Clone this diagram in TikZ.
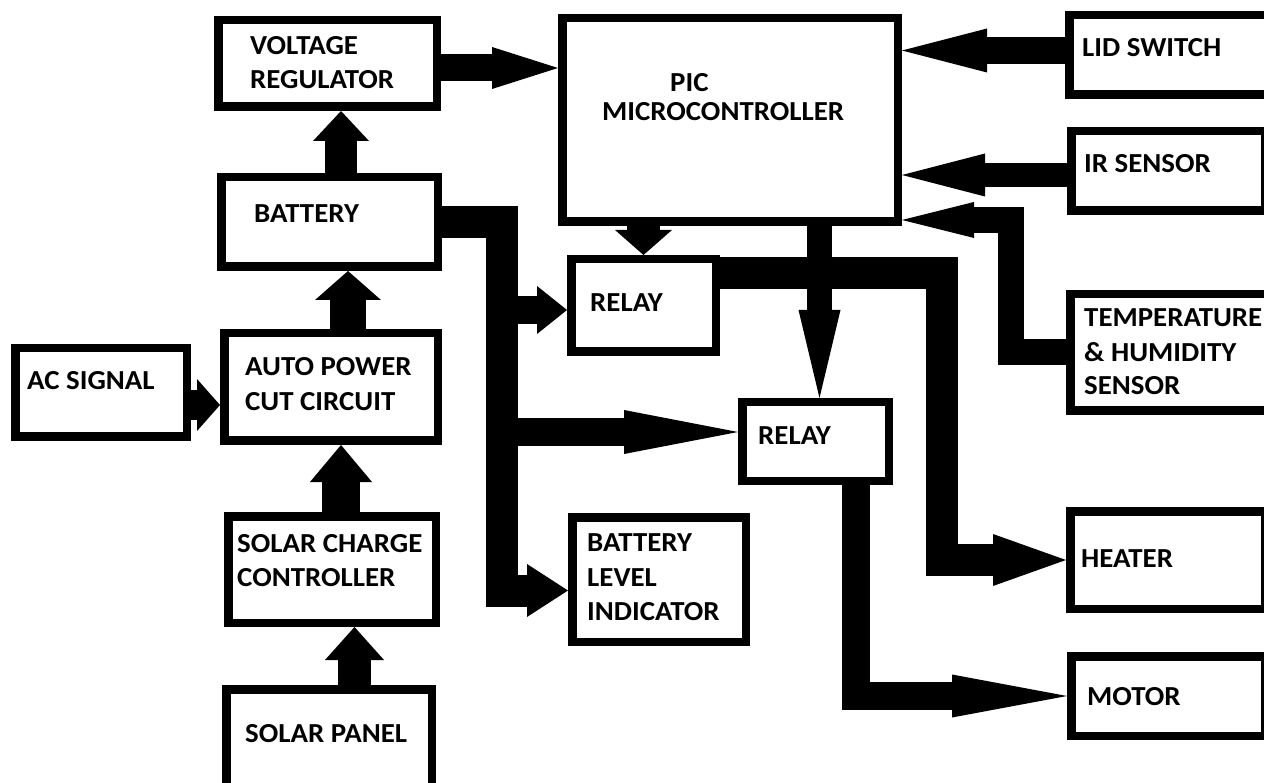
\documentclass[tikz,border=0pt]{standalone}
\usepackage{fontspec}
\setmainfont{Carlito}[FakeStretch=1.05]
\usetikzlibrary{arrows.meta}
\begin{document}
\begin{tikzpicture}[x=1pt,y=-1pt,
  box/.style={draw=black, line width=8.5pt, inner sep=0pt, fill=white},
  txt/.style={anchor=base west, inner sep=0pt, font=\fontsize{27.5}{32}\selectfont\bfseries},
  conn/.style={draw=black, line cap=butt, line join=miter},
  ahead/.style 2 args={-{Triangle[length=#1,width=#2,line width=0pt]}}]
\useasboundingbox (0,0) rectangle (1264,783);
\clip (0,0) rectangle (1264,783);
\fill[white] (0,0) rectangle (1264,783);

% boxes
\node[box, minimum width=218.5pt, minimum height=86.5pt]  (vr)     at (327.5,63.5) {};
\node[box, minimum width=335.5pt, minimum height=203.5pt] (pic)    at (730,120) {};
\node[box, minimum width=206.5pt, minimum height=79.5pt]  (lid)    at (1172.5,55) {};
\node[box, minimum width=193.5pt, minimum height=79.5pt]  (ir)     at (1168,171) {};
\node[box, minimum width=205.5pt, minimum height=116.5pt] (temp)   at (1173,352.5) {};
\node[box, minimum width=216.5pt, minimum height=89.5pt]  (bat)    at (329.5,222) {};
\node[box, minimum width=144.5pt, minimum height=92.5pt]  (rly1)   at (643.5,305.5) {};
\node[box, minimum width=171.5pt, minimum height=88.5pt]  (ac)     at (101,392.5) {};
\node[box, minimum width=213.5pt, minimum height=107.5pt] (apc)    at (331,387) {};
\node[box, minimum width=146.5pt, minimum height=78.5pt]  (rly2)   at (815.5,441.5) {};
\node[box, minimum width=207.5pt, minimum height=106.5pt] (scc)    at (332,569.5) {};
\node[box, minimum width=173.5pt, minimum height=124.5pt] (bli)    at (659,579.5) {};
\node[box, minimum width=194.5pt, minimum height=97.5pt]  (heater) at (1167.5,560) {};
\node[box, minimum width=193.5pt, minimum height=79.5pt]  (motor)  at (1168,696) {};
\node[box, minimum width=205.5pt, minimum height=116.5pt] (sp)     at (329,747.5) {};

% texts
\node[txt] (t1) at (250,55) {VOLTAGE};
\node[txt] (t2) at (250,89) {REGULATOR};
\node[txt] (t3) at (670,92) {PIC};
\node[txt] (t4) at (602,121) {MICROCONTROLLER};
\node[txt] (t5) at (1082,57) {LID SWITCH};
\node[txt] (t6) at (1084,173) {IR SENSOR};
\node[txt] (t7) at (1084,327) {TEMPERATURE};
\node[txt] (t8) at (1084,362) {\& HUMIDITY};
\node[txt] (t9) at (1084,395) {SENSOR};
\node[txt] (t10) at (254,223) {BATTERY};
\node[txt] (t11) at (590,312) {RELAY};
\node[txt] (t12) at (27,390) {AC SIGNAL};
\node[txt] (t13) at (245,376) {AUTO POWER};
\node[txt] (t14) at (245,410) {CUT CIRCUIT};
\node[txt] (t15) at (758,445) {RELAY};
\node[txt] (t16) at (237,552) {SOLAR CHARGE};
\node[txt] (t17) at (237,586) {CONTROLLER};
\node[txt] (t18) at (587,551) {BATTERY};
\node[txt] (t19) at (587,586) {LEVEL};
\node[txt] (t20) at (587,620) {INDICATOR};
\node[txt] (t21) at (1081,567) {HEATER};
\node[txt] (t22) at (1087,705) {MOTOR};
\node[txt] (t23) at (245,742) {SOLAR PANEL};

% helper coordinates
\coordinate (b2v)  at ([xshift=11.5pt]bat.north);
\coordinate (v2p)  at ([yshift=-4.5pt]vr.east);
\coordinate (l2p)  at ([yshift=4.5pt]lid.west);
\coordinate (i2p)  at ([yshift=-4pt]ir.west);
\coordinate (t2p)  at ([yshift=-100pt]pic.east);
\coordinate (r1o)  at ([yshift=32.5pt]rly1.east);
\coordinate (p2r)  at ([xshift=89.5pt]pic.south);
\coordinate (bus)  at ([xshift=59.5pt]bat.east);
\coordinate (bliin) at ([yshift=-11pt]bli.west);
\coordinate (r1in) at ([yshift=-4.5pt]rly1.west);
\coordinate (r2in) at ([yshift=9.5pt]rly2.west);
\coordinate (r2o)  at ([xshift=40pt]rly2.south);
\coordinate (a2a)  at ([yshift=-12.5pt]ac.east);
\coordinate (a2b)  at ([xshift=17pt]apc.north);
\coordinate (s2a)  at ([xshift=9pt]scc.north);
\coordinate (p2s)  at ([xshift=25.5pt]sp.north);

% connectors
\draw[conn, line width=32pt, ahead={30pt}{56pt}] (b2v) -- (b2v |- vr.south);
\draw[conn, line width=27pt, ahead={66pt}{42pt}] (v2p) -- (v2p -| pic.west);
\draw[conn, line width=27pt, ahead={85pt}{44pt}] (l2p) -- (l2p -| pic.east);
\draw[conn, line width=24pt, ahead={83pt}{43pt}] (i2p) -- (i2p -| pic.east);
\draw[conn, line width=26pt, ahead={72pt}{36pt}] (temp.west) -- ++(-55,0) |- (t2p);
\draw[conn, line width=33pt, ahead={25pt}{57pt}] (rly1.north |- pic.south) -- (rly1.north);
\draw[conn, line width=32pt, ahead={73pt}{52pt}] (r1o) -- ++(222,0) |- (heater.west);
\draw[conn, line width=25pt, ahead={88pt}{42pt}] (p2r) -- (p2r |- rly2.north);
\draw[conn, line width=32pt, ahead={41pt}{53pt}] (bat.east) -- (bus) |- (bliin);
\draw[conn, line width=28pt, ahead={30pt}{48pt}] (bus |- r1in) -- (r1in);
\draw[conn, line width=28pt, ahead={114pt}{44pt}] (bus |- r2in) -- (r2in);
\draw[conn, line width=28pt, ahead={115pt}{43pt}] (r2o) |- (motor.west);
\draw[conn, line width=30pt, ahead={23pt}{52pt}] (a2a) -- (a2a -| apc.west);
\draw[conn, line width=36pt, ahead={29pt}{66pt}] (a2b) -- (a2b |- bat.south);
\draw[conn, line width=38pt, ahead={37pt}{62pt}] (s2a) -- (s2a |- apc.south);
\draw[conn, line width=33pt, ahead={33pt}{59pt}] (p2s) -- (p2s |- scc.south);
\end{tikzpicture}
\end{document}
